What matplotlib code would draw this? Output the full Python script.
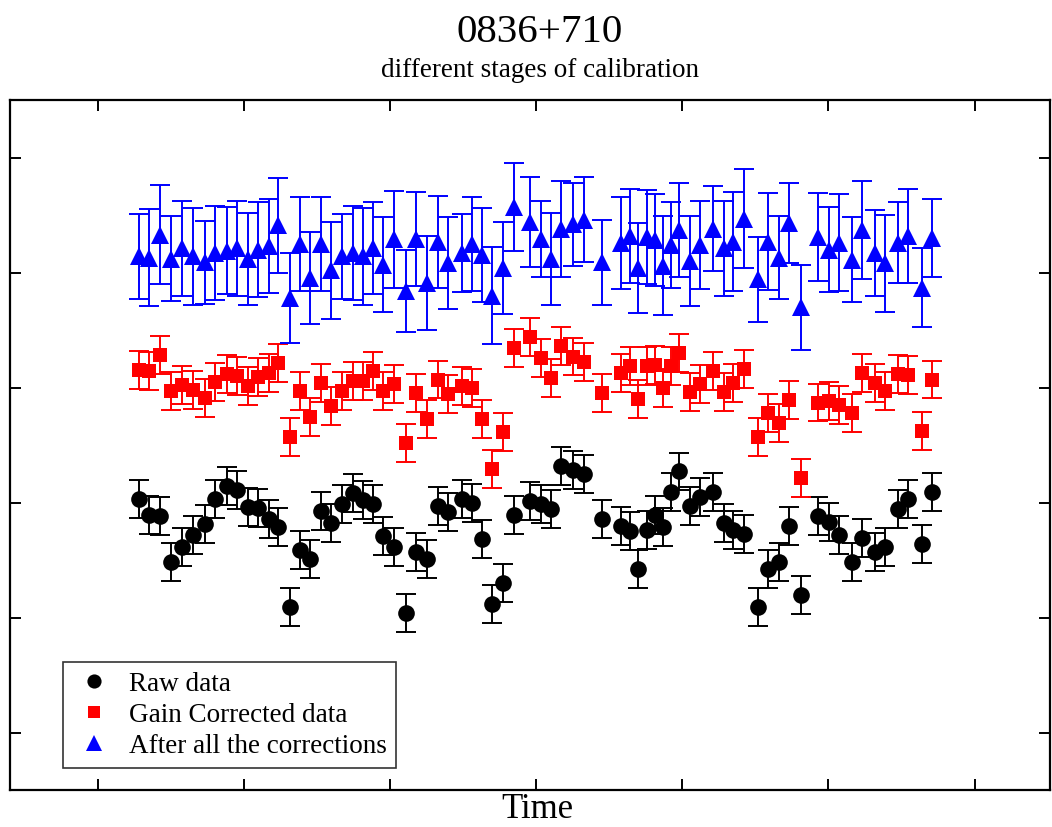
import numpy as np
import matplotlib.pyplot as plt
from matplotlib.lines import Line2D

plt.rcParams['font.family'] = ['Liberation Serif', 'DejaVu Serif']

# observation epochs (arbitrary time units)
time = [5.7, 7.0, 8.5, 10.1, 11.5, 13.0, 14.7, 16.1, 17.7, 19.1,
        20.6, 21.9, 23.4, 24.7, 26.3, 27.7, 29.1, 30.5, 31.9, 33.5,
        34.9, 36.3, 37.7, 39.1, 40.5, 42.2, 43.6, 45.0, 46.5, 47.9,
        49.9, 51.2, 52.6, 54.0, 55.5, 56.9, 59.2, 60.6, 62.0, 63.4,
        65.0, 66.5, 69.0, 71.6, 72.8, 74.0, 75.1, 76.2, 77.3, 78.5,
        79.5, 81.0, 82.4, 84.2, 85.7, 87.0, 88.5, 90.3, 91.7, 93.2,
        94.6, 96.2, 98.5, 100.1, 101.5, 103.2, 104.6, 106.3, 107.7, 109.5,
        110.9, 112.8, 114.1]

raw = [2.03, 1.89, 1.88, 1.48, 1.61, 1.72, 1.81, 2.03, 2.14, 2.11,
       1.96, 1.95, 1.86, 1.79, 1.09, 1.59, 1.51, 1.93, 1.82, 1.99,
       2.08, 2.02, 1.99, 1.71, 1.61, 1.04, 1.57, 1.51, 1.97, 1.92,
       2.03, 2.00, 1.68, 1.12, 1.30, 1.89, 2.01, 1.99, 1.94, 2.32,
       2.28, 2.25, 1.86, 1.80, 1.75, 1.42, 1.76, 1.89, 1.79, 2.09,
       2.27, 1.97, 2.05, 2.09, 1.82, 1.76, 1.73, 1.09, 1.42, 1.48,
       1.80, 1.20, 1.88, 1.83, 1.72, 1.48, 1.69, 1.57, 1.61, 1.94,
       2.03, 1.64, 2.09]
raw_err = 0.165

gain = [3.15, 3.14, 3.28, 2.97, 3.02, 2.98, 2.91, 3.05, 3.12, 3.10,
        3.01, 3.09, 3.13, 3.21, 2.57, 2.97, 2.74, 3.04, 2.84, 2.97,
        3.06, 3.06, 3.14, 2.97, 3.03, 2.52, 2.95, 2.73, 3.07, 2.94,
        3.01, 3.00, 2.73, 2.29, 2.61, 3.34, 3.44, 3.26, 3.08, 3.36,
        3.27, 3.22, 2.95, 3.13, 3.19, 2.90, 3.19, 3.20, 3.00, 3.19,
        3.30, 2.96, 3.03, 3.14, 2.96, 3.04, 3.16, 2.57, 2.78, 2.69,
        2.89, 2.21, 2.87, 2.88, 2.85, 2.78, 3.13, 3.04, 2.97, 3.12,
        3.11, 2.62, 3.07]
gain_err = 0.165

final = [4.14, 4.13, 4.33, 4.12, 4.21, 4.14, 4.09, 4.17, 4.19, 4.21,
         4.12, 4.20, 4.23, 4.41, 3.78, 4.25, 3.95, 4.25, 4.02, 4.14,
         4.17, 4.14, 4.21, 4.07, 4.29, 3.84, 4.29, 3.91, 4.27, 4.08,
         4.17, 4.25, 4.15, 3.80, 4.04, 4.57, 4.44, 4.29, 4.12, 4.38,
         4.42, 4.46, 4.09, 4.26, 4.32, 4.04, 4.31, 4.28, 4.06, 4.24,
         4.37, 4.10, 4.24, 4.38, 4.21, 4.27, 4.47, 3.94, 4.27, 4.13,
         4.43, 3.70, 4.31, 4.20, 4.26, 4.11, 4.37, 4.17, 4.08, 4.26,
         4.32, 3.87, 4.30]
final_err = [0.37, 0.42, 0.43, 0.37, 0.41, 0.42, 0.36, 0.41, 0.38, 0.41,
             0.40, 0.41, 0.41, 0.41, 0.39, 0.41, 0.40, 0.41, 0.42, 0.37,
             0.41, 0.42, 0.40, 0.41, 0.42, 0.36, 0.41, 0.41, 0.40, 0.40,
             0.34, 0.41, 0.41, 0.42, 0.40, 0.38, 0.39, 0.33, 0.40, 0.42,
             0.36, 0.37, 0.37, 0.40, 0.41, 0.39, 0.41, 0.40, 0.43, 0.37,
             0.41, 0.39, 0.38, 0.37, 0.41, 0.43, 0.43, 0.37, 0.42, 0.36,
             0.35, 0.37, 0.38, 0.37, 0.42, 0.37, 0.43, 0.37, 0.42, 0.35,
             0.41, 0.34, 0.34]

x_ticks = [0, 20, 40, 60, 80, 100, 120]
y_ticks = [0, 1, 2, 3, 4, 5]

fig = plt.figure(figsize=(10.52, 8.27), dpi=100)
ax = fig.add_axes([0.0095, 0.0447, 0.9885, 0.8343])

series = [
    (raw, raw_err, 'o', 'black', 12, 'Raw data'),
    (gain, gain_err, 's', '#ff0000', 10.5, 'Gain Corrected data'),
    (final, final_err, '^', '#0000ff', 13.5, 'After all the corrections'),
]
handles = []
for vals, err, mk, col, ms, lab in series:
    # markers drawn separately so the caps keep their own edge width
    ax.errorbar(time, vals, yerr=err, fmt='none', ecolor=col,
                elinewidth=1.4, capsize=7, capthick=1.4)
    ax.plot(time, vals, ls='none', marker=mk, color=col, ms=ms,
            markeredgewidth=0)
    handles.append(Line2D([], [], ls='none', marker=mk, color=col,
                          ms=ms * 0.85, markeredgewidth=0))

ax.set_xlim(-12.0, 130.3)
ax.set_ylim(-0.5, 5.5)
ax.set_xticks(x_ticks)
ax.set_yticks(y_ticks)
ax.set_xticklabels([])
ax.set_yticklabels([])
ax.tick_params(direction='in', length=8, width=1.4,
               top=True, right=True, bottom=True, left=True)
for s in ax.spines.values():
    s.set_linewidth(1.6)

leg = ax.legend(handles, [s[5] for s in series], loc='lower left',
                bbox_to_anchor=(0.0375, 0.012), fontsize=19.5,
                frameon=True, fancybox=False, borderpad=0.35,
                handletextpad=0.5, labelspacing=0.22, handlelength=1.6)
leg.get_frame().set_edgecolor('black')
leg.get_frame().set_linewidth(1.2)

fig.text(0.513, 0.961, '0836+710', ha='center', va='center', fontsize=29.5)
fig.text(0.513, 0.915, 'different stages of calibration', ha='center',
         va='center', fontsize=19.5)
fig.text(0.511, 0.021, 'Time', ha='center', va='center', fontsize=25)

fig.savefig('out.png', dpi=100)
